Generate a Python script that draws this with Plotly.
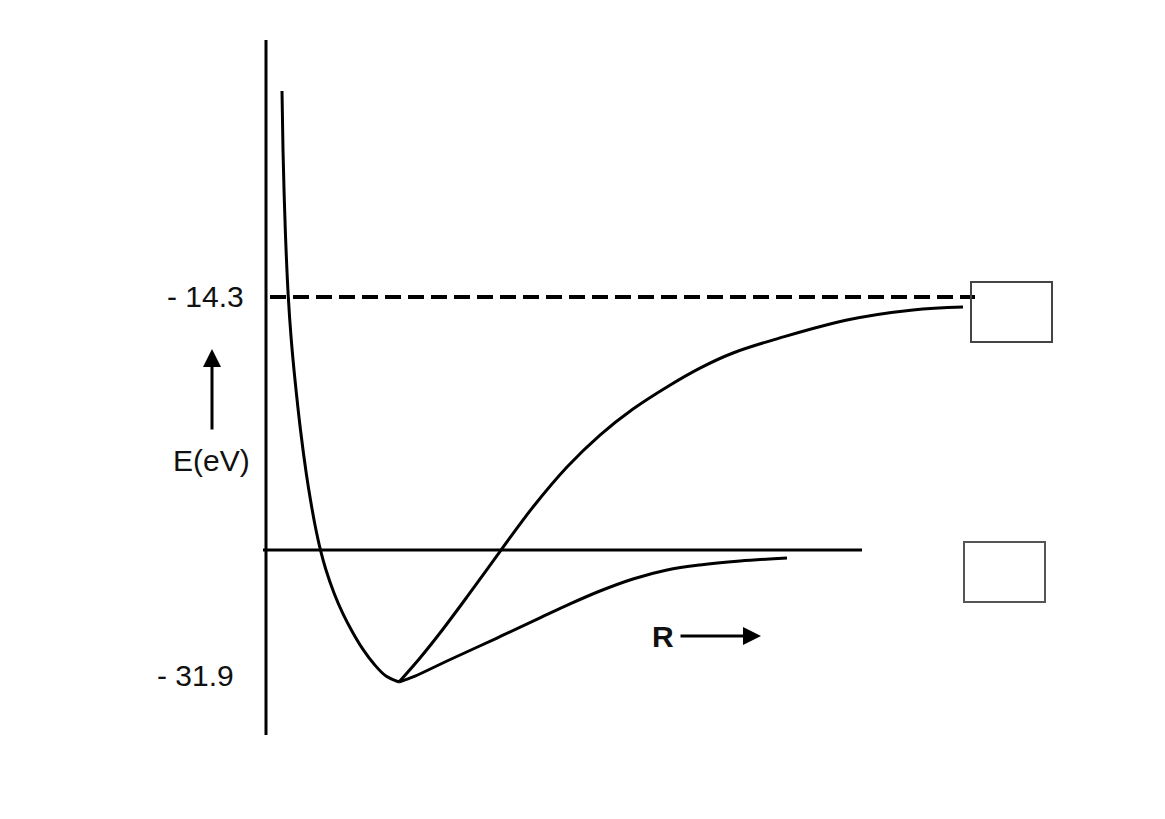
import plotly.graph_objects as go

# ---- data (R in arbitrary units, E in eV) ----
wall_R = [0.16, 0.17, 0.193, 0.223, 0.253, 0.29, 0.345, 0.405, 0.445, 0.49, 0.545, 0.60, 0.68, 0.77,
          0.87, 0.97, 1.08, 1.20, 1.33]
wall_E = [-4.88, -7.58, -11.24, -14.3, -16.27, -18.09, -20.38, -22.44, -23.58, -24.72, -25.87, -26.78,
          -27.83, -28.79, -29.66, -30.41, -31.08, -31.63, -31.9]

upper_R = [1.33, 1.54, 1.74, 2.01, 2.35, 2.67, 3.01, 3.34, 3.67, 4.01, 4.34, 4.67, 5.14, 5.81, 6.47, 6.97]
upper_E = [-31.9, -30.80, -29.66, -28.01, -25.87, -23.90, -22.07, -20.61, -19.42, -18.41, -17.55,
           -16.86, -16.17, -15.35, -14.89, -14.76]

lower_R = [1.33, 1.49, 1.81, 2.31, 2.74, 3.04, 3.34, 3.67, 4.01, 4.34, 4.74, 5.21]
lower_E = [-31.9, -31.63, -30.94, -29.89, -28.97, -28.33, -27.74, -27.19, -26.78, -26.55, -26.37, -26.23]

tick_values = [-14.3, -31.9]
tick_labels = ["- 14.3", "- 31.9"]
baseline_E = -25.87

W, H = 1165, 819
# pixel helpers for layout placement
def rx(px):
    return (px - 266) / 100.0

def ey(py):
    return -14.3 - (py - 297) * 17.6 / 385.0

line = dict(color="black", width=3)
curve = dict(color="black", width=3, shape="spline", smoothing=1.0)
fig = go.Figure()

fig.add_trace(go.Scatter(x=wall_R, y=wall_E, mode="lines", line=curve, hoverinfo="skip"))
fig.add_trace(go.Scatter(x=upper_R, y=upper_E, mode="lines", line=curve, hoverinfo="skip"))
fig.add_trace(go.Scatter(x=lower_R, y=lower_E, mode="lines", line=curve, hoverinfo="skip"))

shapes = [
    dict(type="line", x0=0, x1=0, y0=ey(40), y1=ey(735), line=line, layer="below"),
    dict(type="line", x0=rx(263), x1=rx(862), y0=baseline_E, y1=baseline_E, line=line, layer="below"),
    dict(type="line", x0=rx(270), x1=rx(975), y0=tick_values[0], y1=tick_values[0],
         line=dict(color="black", width=4, dash="16px,7px"), layer="below"),
    dict(type="rect", x0=rx(971), x1=rx(1052), y0=ey(282), y1=ey(342), line=dict(color="#444", width=2)),
    dict(type="rect", x0=rx(964), x1=rx(1045), y0=ey(542), y1=ey(602), line=dict(color="#555", width=2)),
]

font = dict(family="Liberation Sans, Arial, sans-serif", size=30, color="#111")
annotations = [
    dict(x=rx(246), y=ey(296), text=tick_labels[0], showarrow=False, xanchor="right", yanchor="middle", font=font),
    dict(x=rx(236), y=ey(675), text=tick_labels[1], showarrow=False, xanchor="right", yanchor="middle", font=font),
    dict(x=rx(211), y=ey(460), text="E(eV)", showarrow=False, xanchor="center", yanchor="middle", font=font),
    dict(x=rx(663), y=ey(636), text="<b>R</b>", showarrow=False, xanchor="center", yanchor="middle", font=font),
    dict(x=rx(212), y=ey(349), ax=0, ay=82, text="", showarrow=True, arrowhead=2, arrowsize=1.2,
         arrowwidth=3, arrowcolor="black", standoff=0),
    dict(x=rx(761), y=ey(636), ax=-82, ay=0, text="", showarrow=True, arrowhead=2, arrowsize=1.2,
         arrowwidth=3, arrowcolor="black", standoff=0),
]

fig.update_layout(
    width=W, height=H,
    margin=dict(l=0, r=0, t=0, b=0),
    paper_bgcolor="white", plot_bgcolor="white",
    showlegend=False,
    xaxis=dict(range=[rx(0), rx(W)], visible=False, fixedrange=True),
    yaxis=dict(range=[ey(H), ey(0)], visible=False, fixedrange=True),
    shapes=shapes,
    annotations=annotations,
)

fig.write_html("out.html")
